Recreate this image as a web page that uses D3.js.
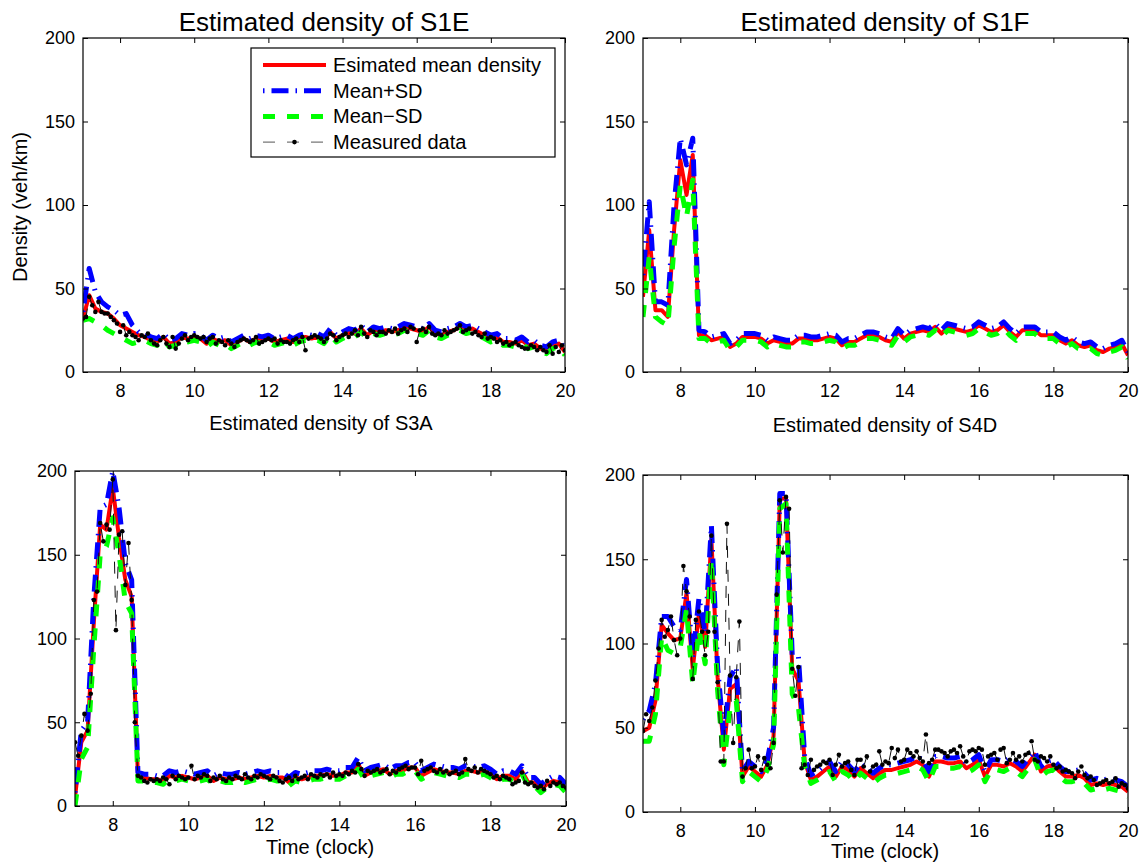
<!DOCTYPE html>
<html>
<head>
<meta charset="utf-8">
<script src="https://cdn.jsdelivr.net/npm/d3@7"></script>
<style>
body{margin:0;background:#fff}
svg{font-family:"Liberation Sans",Arial,Helvetica,sans-serif}
</style>
</head>
<body>
<svg id="chart" width="1147" height="868" viewBox="0 0 1147 868"></svg>
<script>
// sampling: estimates every 10 min, measured data every 5 min, 7:00 -> 20:00
const startHour = 7
const estStep = 1/6
const measStep = 1/12

const xTicks = [8,10,12,14,16,18,20]
const yTicks = [0,50,100,150,200]

const legendLabels = ["Esimated mean density","Mean+SD","Mean\u2212SD","Measured data"]

// ---- S1E ----
const s1eMean = [32,46,38,36,35,32,28,26,24,22, 21,19,18,21,17,18,21,20,21,20, 17,20,18,19,16,18,20,18,20,19,
  20,18,19,20,18,20,21,20,21,19, 24,20,22,24,23,26,22,25,24,25, 24,25,27,26,25,24,27,23,22,24,
  25,27,25,26,24,22,20,21,18,18, 17,19,16,17,14,13,16,17,12]
const s1eUpper = [36,62,48,42,39,37,34,35,28,24, 23,21,20,23,19,20,23,22,23,22, 19,22,20,21,18,20,22,20,22,21,
  22,20,21,22,20,22,23,22,23,21, 26,22,24,26,25,28,24,27,26,27, 26,27,29,28,27,26,29,25,24,26,
  27,29,27,28,26,24,22,23,20,20, 19,21,18,19,16,15,18,19,14]
const s1eLower = [31,32,30,28,25,23,21,19,17,18, 19,17,16,19,15,16,19,18,19,18, 15,18,16,17,14,16,18,16,18,17,
  18,16,17,18,16,18,19,18,19,17, 22,18,20,22,21,24,20,23,22,23, 22,23,25,24,23,22,25,21,20,22,
  23,25,23,24,22,20,18,19,16,16, 15,17,14,15,12,11,14,15,10]
const s1eMeasured = [
  32,33,45,40,36,42,36,35,35,33,31,29,
  24,28,22,24,22,21,19,22,21,23,19,17,
  16,19,21,17,15,21,14,17,20,22,19,21,
  22,21,20,21,18,20,21,17,19,18,16,19,
  17,15,18,19,20,19,18,19,21,17,18,19,
  20,19,20,17,19,18,18,17,19,20,18,21,
  13,20,21,22,21,20,18,20,23,22,19,21,
  22,23,21,23,25,22,27,23,21,25,24,22,
  24,24,23,25,24,26,23,25,26,24,27,26,
  18,25,26,24,27,23,22,23,22,25,23,24,
  25,26,28,24,25,26,23,24,22,21,23,20,
  21,20,18,19,17,18,16,17,18,16,15,14,
  14,16,15,13,15,13,12,16,11,15,12,16,
  13]

// ---- S1F (no measured data) ----
const s1fMean = [45,85,37,37,33,85,127,106,130,22, 22,19,20,21,15,17,21,21,21,20, 17,19,18,17,17,20,20,19,19,20,
  21,20,16,18,18,20,22,22,21,19, 18,24,20,23,24,25,24,27,23,27, 26,25,24,25,28,26,24,25,28,24,
  21,25,25,25,22,22,22,19,17,19, 16,15,16,13,12,14,15,17,10]
const s1fUpper = [58,102,42,42,40,100,140,124,140,25, 24,21,22,23,17,19,23,23,23,22, 19,21,20,19,19,22,22,21,21,22,
  23,22,18,20,20,22,24,24,23,21, 20,26,22,25,26,27,26,29,25,29, 28,27,26,27,30,28,26,27,30,26,
  23,27,27,27,24,24,24,21,19,21, 18,17,18,15,14,16,17,19,12]
const s1fLower = [33,69,33,30,28,75,112,93,115,20, 20,17,18,19,13,15,19,19,19,18, 15,17,16,15,15,18,18,17,17,18,
  19,18,14,16,16,18,20,20,19,17, 16,22,18,21,22,23,22,25,21,25, 24,23,22,23,26,24,22,23,26,22,
  19,23,23,23,20,20,20,17,15,17, 14,13,14,11,10,12,13,15,8]

// ---- S3A ----
const s3aMean = [5,38,45,110,168,165,190,160,135,125, 17,17,16,16,15,18,17,18,17,16, 17,18,15,17,16,16,17,16,17,18,
  17,18,17,17,14,17,16,17,18,18, 19,18,18,20,20,25,18,20,21,22, 19,21,21,23,23,18,20,22,21,20,
  20,19,21,21,20,21,19,16,18,18, 16,21,14,14,10,13,15,14,10]
const s3aUpper = [8,45,50,125,178,180,200,178,145,135, 20,19,19,18,18,21,20,21,20,19, 20,21,18,20,19,19,20,19,20,21,
  20,21,20,20,17,20,19,20,21,21, 22,21,21,23,23,29,21,23,24,25, 22,24,24,26,26,21,23,25,24,23,
  23,22,24,24,23,24,22,19,21,21, 19,24,17,17,13,16,18,17,13]
const s3aLower = [0,28,35,95,150,155,172,150,122,115, 15,15,14,14,13,16,15,16,15,14, 15,16,13,15,14,14,15,14,15,16,
  15,16,15,15,12,15,14,15,16,16, 17,16,16,18,18,22,16,18,19,20, 17,19,19,21,21,16,18,20,19,18,
  18,17,19,19,18,19,17,14,16,16, 14,19,12,12,8,11,13,12,8]
const s3aMeasured = [
  38,30,42,55,45,67,123,128,169,158,168,165,
  195,105,162,164,132,157,123,50,18,17,15,14,
  16,15,16,15,17,16,13,18,16,18,17,16,
  17,24,16,18,17,19,18,15,17,16,18,16,
  15,17,16,18,17,16,19,17,16,18,17,19,
  18,17,16,18,17,15,14,16,17,15,18,16,
  17,18,16,19,18,17,19,18,19,17,20,18,
  19,18,20,19,21,20,25,22,18,21,20,21,
  22,20,21,22,19,21,20,22,23,24,22,23,
  23,19,27,21,22,23,21,20,22,20,21,19,
  20,21,19,20,28,22,21,23,20,22,21,20,
  19,17,18,16,18,17,16,13,14,15,20,14,
  13,14,12,11,12,10,15,12,14,13,14,12,
  11]

// ---- S4D ----
const s4dMean = [48,50,66,111,106,102,103,130,85,118, 98,162,80,37,73,76,21,27,24,21, 28,45,186,186,85,78,30,19,21,24,
  27,21,27,25,21,26,23,20,23,25, 25,26,27,28,30,28,21,30,30,29, 29,30,26,28,31,21,28,28,27,29,
  27,24,29,34,24,27,28,24,21,21, 22,20,16,17,16,17,16,15,12]
const s4dUpper = [55,60,76,116,116,110,108,138,92,127, 106,170,86,45,80,86,24,30,27,24, 31,50,189,189,93,92,33,22,24,27,
  30,24,30,28,24,29,26,23,26,28, 28,29,30,31,33,31,24,33,33,32, 32,33,29,31,34,24,31,31,30,32,
  30,27,32,36,27,30,31,27,24,24, 25,23,19,20,19,20,19,18,15]
const s4dLower = [42,42,58,104,96,94,98,120,76,108, 88,150,72,28,62,66,18,24,21,18, 25,40,180,183,70,62,27,17,19,21,
  24,18,24,22,18,23,20,17,20,22, 22,23,24,25,27,25,18,27,27,26, 26,27,23,25,28,18,25,25,24,26,
  24,21,26,31,21,24,25,21,18,18, 19,17,13,14,13,14,13,12,9]
const s4dMeasured = [
  48,58,54,62,78,97,114,104,108,116,102,93,
  103,146,131,116,79,114,119,107,93,107,164,107,
  77,30,30,171,81,41,80,113,21,26,37,26,
  27,33,25,32,28,26,41,129,185,154,187,180,
  85,69,86,26,28,22,31,25,27,28,30,29,
  31,22,28,34,27,29,30,25,22,31,31,27,
  33,24,27,28,36,28,30,29,38,32,37,30,
  31,37,35,33,36,32,30,46,29,31,37,37,
  36,35,33,36,37,35,39,33,30,36,37,36,
  38,37,28,33,34,35,31,37,38,29,31,35,
  31,33,30,34,35,42,31,30,33,32,30,33,
  28,26,27,24,25,24,23,20,24,27,22,20,
  21,19,16,17,18,19,17,18,20,15,17,16,
  14]

// layout (pixel boxes of the four axes)
const panels = [
  {id:"s1e", box:[83,38,565,372], mean:s1eMean, upper:s1eUpper, lower:s1eLower, measured:s1eMeasured},
  {id:"s1f", box:[643,38,1128,372], mean:s1fMean, upper:s1fUpper, lower:s1fLower, measured:null},
  {id:"s3a", box:[75,471,566,806], mean:s3aMean, upper:s3aUpper, lower:s3aLower, measured:s3aMeasured},
  {id:"s4d", box:[643,475,1128,812], mean:s4dMean, upper:s4dUpper, lower:s4dLower, measured:s4dMeasured}
]

const styles = {
  mean: {stroke:"#ff0000", width:4, dash:null},
  upper: {stroke:"#0000ff", width:5, dash:"1.5,7,17,7"},
  lower: {stroke:"#00ff00", width:5, dash:"12,12"},
  measured: {stroke:"#111", width:1, dash:"12,12"}
}

const svg = d3.select("#chart")
const font = "'Liberation Sans',Arial,Helvetica,sans-serif"

function drawPanel(p)
{
  const [x0,y0,x1,y1] = p.box
  const x = d3.scaleLinear().domain([7,20]).range([x0,x1])
  const y = d3.scaleLinear().domain([0,200]).range([y1,y0])

  svg.append("clipPath").attr("id","clip_"+p.id)
    .append("rect").attr("x",x0).attr("y",y0).attr("width",x1-x0).attr("height",y1-y0)

  const plot = svg.append("g").attr("clip-path",`url(#clip_${p.id})`)

  const estLine = d3.line()
    .x((d,i)=>x(startHour + i*estStep))
    .y(d=>y(d))
  const measLine = d3.line()
    .x((d,i)=>x(startHour + i*measStep))
    .y(d=>y(d))

  // plotting order as in the legend
  ;["mean","upper","lower"].forEach(function(k){
    const s = styles[k]
    plot.append("path")
      .datum(p[k])
      .attr("d",estLine)
      .attr("fill","none")
      .attr("stroke",s.stroke)
      .attr("stroke-width",s.width)
      .attr("stroke-dasharray",s.dash)
      .attr("stroke-linejoin","round")
  })

  if (p.measured)
  {
    const s = styles.measured
    plot.append("path")
      .datum(p.measured)
      .attr("d",measLine)
      .attr("fill","none")
      .attr("stroke",s.stroke)
      .attr("stroke-width",s.width)
      .attr("stroke-dasharray",s.dash)
    plot.selectAll(".dot_"+p.id)
      .data(p.measured)
      .enter()
      .append("circle")
      .attr("cx",(d,i)=>x(startHour + i*measStep))
      .attr("cy",d=>y(d))
      .attr("r",2.3)
      .attr("fill","#000")
  }

  // axes, ticks pointing inwards on all four sides
  const styleAxis = g => {
    g.select(".domain").remove()
    g.attr("font-size",18).attr("font-family",font)
    g.selectAll("line").attr("stroke","#000")
    g.selectAll("text").attr("fill","#000")
  }
  svg.append("g").attr("transform",`translate(0,${y1})`)
    .call(d3.axisBottom(x).tickValues(xTicks).tickSize(-5).tickPadding(12))
    .call(styleAxis)
  svg.append("g").attr("transform",`translate(0,${y0})`)
    .call(d3.axisTop(x).tickValues(xTicks).tickSize(-5).tickFormat(""))
    .call(styleAxis)
  svg.append("g").attr("transform",`translate(${x0},0)`)
    .call(d3.axisLeft(y).tickValues(yTicks).tickSize(-5).tickPadding(8))
    .call(styleAxis)
  svg.append("g").attr("transform",`translate(${x1},0)`)
    .call(d3.axisRight(y).tickValues(yTicks).tickSize(-5).tickFormat(""))
    .call(styleAxis)

  svg.append("rect")
    .attr("x",x0).attr("y",y0).attr("width",x1-x0).attr("height",y1-y0)
    .attr("fill","none").attr("stroke","#000").attr("stroke-width",1.2)
}

panels.forEach(drawPanel)

// titles and axis labels
const labels = [
  {text:"Estimated density of S1E", x:324, y:31, size:26},
  {text:"Estimated density of S1F", x:885, y:31, size:26},
  {text:"Estimated density of S3A", x:321, y:430, size:20},
  {text:"Estimated density of S4D", x:885, y:432, size:20},
  {text:"Time (clock)", x:320, y:854, size:20},
  {text:"Time (clock)", x:885, y:858, size:20}
]
svg.selectAll(".label")
  .data(labels)
  .enter()
  .append("text")
  .attr("x",d=>d.x)
  .attr("y",d=>d.y)
  .attr("text-anchor","middle")
  .attr("font-size",d=>d.size)
  .attr("fill","#000")
  .text(d=>d.text)

svg.append("text")
  .attr("transform","translate(27,207) rotate(-90)")
  .attr("text-anchor","middle")
  .attr("font-size",20)
  .text("Density (veh/km)")

// legend (first panel only)
const legend = svg.append("g")
legend.append("rect")
  .attr("x",251).attr("y",48).attr("width",304).attr("height",109)
  .attr("fill","#fff").attr("stroke","#000").attr("stroke-width",1.2)

const legendKeys = ["mean","upper","lower","measured"]
legendKeys.forEach(function(k,i){
  const cy = 65 + i*25.7
  const s = styles[k]
  legend.append("line")
    .attr("x1",263).attr("x2",326).attr("y1",cy).attr("y2",cy)
    .attr("stroke",k=="measured" ? "#555" : s.stroke)
    .attr("stroke-width",s.width)
    .attr("stroke-dasharray",s.dash)
  if (k=="measured")
  {
    legend.append("circle").attr("cx",294.5).attr("cy",cy).attr("r",2.3).attr("fill","#000")
  }
  legend.append("text")
    .attr("x",333).attr("y",cy+7)
    .attr("font-size",20)
    .text(legendLabels[i])
})
</script>
</body>
</html>
